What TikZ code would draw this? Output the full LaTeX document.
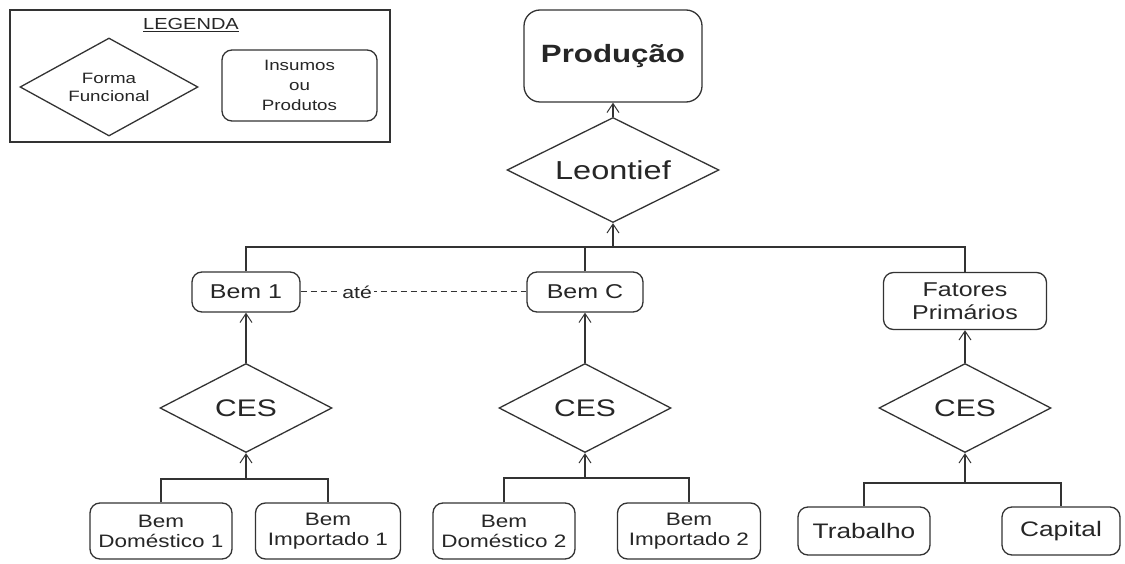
\documentclass[tikz,border=0pt]{standalone}
\usepackage{fontspec}
\setmainfont{Liberation Sans}[FakeStretch=1.25]
\usetikzlibrary{shapes.geometric,arrows.meta}
\newcommand{\fs}[2]{\fontsize{#1}{#2}\selectfont}
\tikzset{
  ln/.style={draw=black!80, line width=1.3pt},
  arr/.style={ln, -{Straight Barb[length=9pt,width=12pt,line width=1pt]}},
  rbox/.style={ln, rounded corners=10pt, inner sep=0pt, align=center, text=black!85},
  dia/.style={ln, diamond, inner sep=0pt, aspect=2, align=center, text=black!85},
}
\begin{document}
\begin{tikzpicture}[x=1pt,y=-1pt]
\useasboundingbox[fill=white] (0,0) rectangle (1125,564);
% legend
\node[ln, rectangle, minimum width=380pt, minimum height=132pt, inner sep=0pt] (legend) at (200,76) {};
\node[text=black!85, font=\fs{16}{18}] (legtitle) at (191,25) {\underline{LEGENDA}};
\node[dia, minimum width=178pt, minimum height=98pt, font=\fs{15}{18}] (legdia) at (109,87) {Forma\\Funcional};
\node[rbox, minimum width=155pt, minimum height=71pt, font=\fs{15}{20}] (legbox) at (299.5,85.5) {Insumos\\ou\\Produtos};
% top
\node[rbox, rounded corners=16pt, minimum width=178pt, minimum height=92pt, font=\fs{25}{28}\bfseries] (prod) at (613,56) {Produção};
\node[dia, minimum width=212pt, minimum height=105pt, font=\fs{26}{30}] (leon) at (613,170) {Leontief};
\draw[arr] (leon.north) -- (prod.south);
% middle row
\node[rbox, minimum width=108pt, minimum height=40pt, font=\fs{20}{24}] (bem1) at (246,292) {Bem 1};
\node[rbox, minimum width=116pt, minimum height=40pt, font=\fs{20}{24}] (bemC) at (585,292) {Bem C};
\node[rbox, minimum width=163pt, minimum height=57pt, font=\fs{20}{23}] (fat) at (965,301) {Fatores\\Primários};
\coordinate (jt) at (613,247);
\draw[ln] (bem1.north) |- (jt) -| (fat.north);
\draw[ln] (bemC.north) -- (bemC.north |- jt);
\draw[arr] (jt) -- (leon.south);
\draw[ln, line width=1pt, dash pattern=on 6pt off 4pt] (bem1.east) -- node[pos=0.25, fill=white, inner sep=2pt, text=black!85, font=\fs{17}{20}] (ate) {até} (bemC.west);
% CES diamonds
\node[dia, minimum width=172pt, minimum height=89pt, font=\fs{24}{28}] (ces1) at (246,408) {CES};
\node[dia, minimum width=172pt, minimum height=89pt, font=\fs{24}{28}] (ces2) at (585,408) {CES};
\node[dia, minimum width=172pt, minimum height=89pt, font=\fs{24}{28}] (ces3) at (965,408) {CES};
\draw[arr] (ces1.north) -- (bem1.south);
\draw[arr] (ces2.north) -- (bemC.south);
\draw[arr] (ces3.north) -- (fat.south);
% bottom row
\node[rbox, minimum width=142pt, minimum height=56pt, font=\fs{18}{20}] (bd1) at (161,531) {Bem\\Doméstico 1};
\node[rbox, minimum width=145pt, minimum height=56pt, font=\fs{18}{20}] (bi1) at (328,531) {Bem\\Importado 1};
\node[rbox, minimum width=142pt, minimum height=56pt, font=\fs{18}{20}] (bd2) at (504,531) {Bem\\Doméstico 2};
\node[rbox, minimum width=143pt, minimum height=56pt, font=\fs{18}{20}] (bi2) at (689,531) {Bem\\Importado 2};
\node[rbox, minimum width=132pt, minimum height=48pt, font=\fs{21}{24}] (trab) at (864,531) {Trabalho};
\node[rbox, minimum width=118pt, minimum height=48pt, font=\fs{21}{24}] (cap) at (1061,531) {Capital};
\coordinate (j1) at (246,479);
\coordinate (j2) at (585,478);
\coordinate (j3) at (965,483);
\draw[ln] (bd1.north) |- (j1) -| (bi1.north);
\draw[ln] (bd2.north) |- (j2) -| (bi2.north);
\draw[ln] (trab.north) |- (j3) -| (cap.north);
\draw[arr] (j1) -- (ces1.south);
\draw[arr] (j2) -- (ces2.south);
\draw[arr] (j3) -- (ces3.south);
\end{tikzpicture}
\end{document}
